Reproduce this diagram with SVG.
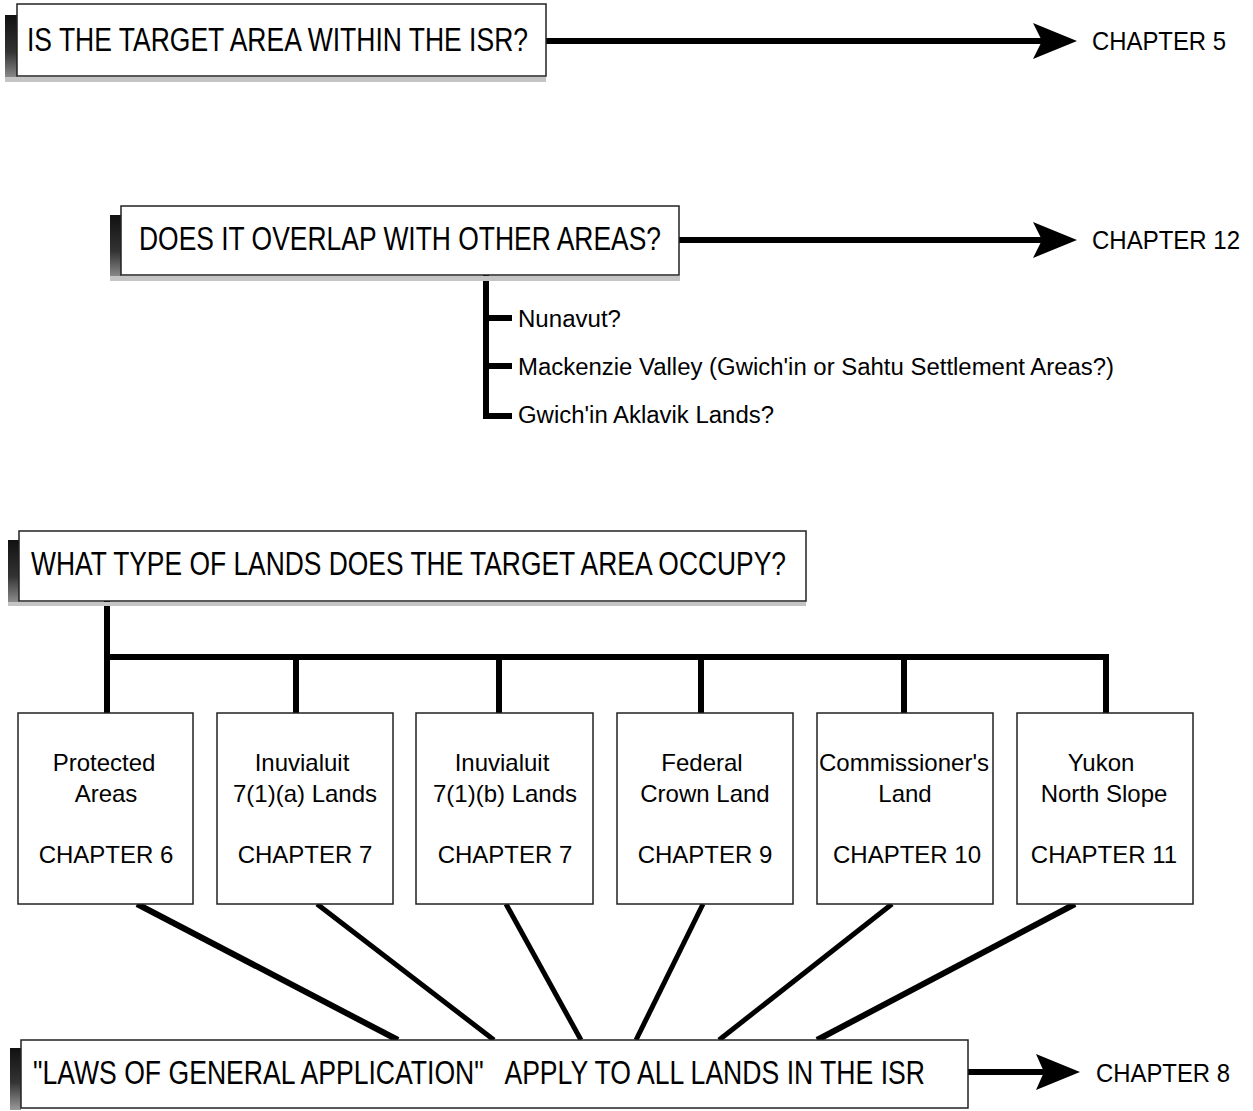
<svg xmlns="http://www.w3.org/2000/svg" width="1253" height="1111" viewBox="0 0 1253 1111">
<defs>
<linearGradient id="bar" x1="0" y1="0" x2="0" y2="1">
<stop offset="0" stop-color="#111"/><stop offset="0.55" stop-color="#333"/><stop offset="1" stop-color="#999"/>
</linearGradient>
<style>
.box{fill:#fff;stroke:#222;stroke-width:1.5}
.bar{fill:url(#bar)}
.band{fill:#c4c4c4}
.h{font-family:"Liberation Sans",Arial,sans-serif;font-size:33px;fill:#000}
.ch{font-family:"Liberation Sans",Arial,sans-serif;font-size:25px;fill:#000}
.t{font-family:"Liberation Sans",Arial,sans-serif;font-size:24px;fill:#000;text-anchor:middle}
.s{font-family:"Liberation Sans",Arial,sans-serif;font-size:23px;fill:#000}
.ln{stroke:#000;stroke-width:6;fill:none}
.ln5{stroke:#000;stroke-width:5;fill:none}
.head{fill:#000}
</style>
</defs>

<g id="connectors">
<line class="ln" x1="546" y1="41" x2="1042" y2="41"/>
<polygon class="head" points="1033,23 1077,41 1033,59 1042,41"/>
<line class="ln" x1="679" y1="240" x2="1042" y2="240"/>
<polygon class="head" points="1033,222 1077,240 1033,258 1042,240"/>
<line class="ln" x1="968" y1="1072" x2="1044" y2="1072"/>
<polygon class="head" points="1036,1054 1080,1072 1036,1090 1044,1072"/>
<polyline class="ln" points="486,275 486,416 512,416"/>
<line class="ln" x1="486" y1="318" x2="512" y2="318"/>
<line class="ln" x1="486" y1="366" x2="512" y2="366"/>
<line class="ln" x1="107" y1="601" x2="107" y2="713"/>
<line class="ln" x1="104" y1="657" x2="1109" y2="657"/>
<line class="ln" x1="296" y1="657" x2="296" y2="713"/>
<line class="ln" x1="499" y1="657" x2="499" y2="713"/>
<line class="ln" x1="701" y1="657" x2="701" y2="713"/>
<line class="ln" x1="904" y1="657" x2="904" y2="713"/>
<line class="ln" x1="1106" y1="657" x2="1106" y2="713"/>
<line class="ln" x1="137" y1="904" x2="398" y2="1040"/>
<line class="ln5" x1="317" y1="904" x2="494" y2="1040"/>
<line class="ln5" x1="506" y1="904" x2="581" y2="1040"/>
<line class="ln5" x1="703" y1="904" x2="636" y2="1040"/>
<line class="ln5" x1="892" y1="904" x2="719" y2="1040"/>
<line class="ln" x1="1075" y1="904" x2="817" y2="1040"/>
</g>

<g id="q1">
<rect class="bar" x="5" y="15" width="12" height="67"/>
<rect class="band" x="5" y="77" width="541" height="5"/>
<rect class="box" x="17" y="4" width="529" height="72"/>
<text class="h" x="27" y="51" textLength="501" lengthAdjust="spacingAndGlyphs">IS THE TARGET AREA WITHIN THE ISR?</text>
</g>
<g id="ch5"><text class="ch" x="1092" y="50" textLength="134" lengthAdjust="spacingAndGlyphs">CHAPTER 5</text></g>

<g id="q2">
<rect class="bar" x="110" y="215" width="11" height="66"/>
<rect class="band" x="110" y="276" width="570" height="5"/>
<rect class="box" x="121" y="206" width="558" height="69"/>
<text class="h" x="139" y="250" textLength="522" lengthAdjust="spacingAndGlyphs">DOES IT OVERLAP WITH OTHER AREAS?</text>
</g>
<g id="ch12"><text class="ch" x="1092" y="249" textLength="148" lengthAdjust="spacingAndGlyphs">CHAPTER 12</text></g>

<g id="o1"><text class="s" x="518" y="327" textLength="103" lengthAdjust="spacingAndGlyphs">Nunavut?</text></g>
<g id="o2"><text class="s" x="518" y="375" textLength="596" lengthAdjust="spacingAndGlyphs">Mackenzie Valley (Gwich'in or Sahtu Settlement Areas?)</text></g>
<g id="o3"><text class="s" x="518" y="423" textLength="256" lengthAdjust="spacingAndGlyphs">Gwich'in Aklavik Lands?</text></g>

<g id="q3">
<rect class="bar" x="8" y="540" width="11" height="66"/>
<rect class="band" x="8" y="602" width="798" height="4"/>
<rect class="box" x="19" y="531" width="787" height="70"/>
<text class="h" x="31" y="575" textLength="755" lengthAdjust="spacingAndGlyphs">WHAT TYPE OF LANDS DOES THE TARGET AREA OCCUPY?</text>
</g>

<g id="l1">
<rect class="box" x="18" y="713" width="175" height="191"/>
<text class="t" x="104" y="771">Protected</text><text class="t" x="106" y="802">Areas</text><text class="t" x="106" y="863">CHAPTER 6</text>
</g>
<g id="l2">
<rect class="box" x="217" y="713" width="176" height="191"/>
<text class="t" x="302" y="771">Inuvialuit</text><text class="t" x="305" y="802">7(1)(a) Lands</text><text class="t" x="305" y="863">CHAPTER 7</text>
</g>
<g id="l3">
<rect class="box" x="416" y="713" width="177" height="191"/>
<text class="t" x="502" y="771">Inuvialuit</text><text class="t" x="505" y="802">7(1)(b) Lands</text><text class="t" x="505" y="863">CHAPTER 7</text>
</g>
<g id="l4">
<rect class="box" x="617" y="713" width="176" height="191"/>
<text class="t" x="702" y="771">Federal</text><text class="t" x="705" y="802">Crown Land</text><text class="t" x="705" y="863">CHAPTER 9</text>
</g>
<g id="l5">
<rect class="box" x="817" y="713" width="176" height="191"/>
<text class="t" x="904" y="771">Commissioner's</text><text class="t" x="905" y="802">Land</text><text class="t" x="907" y="863">CHAPTER 10</text>
</g>
<g id="l6">
<rect class="box" x="1017" y="713" width="176" height="191"/>
<text class="t" x="1101" y="771">Yukon</text><text class="t" x="1104" y="802">North Slope</text><text class="t" x="1104" y="863">CHAPTER 11</text>
</g>

<g id="laws">
<rect class="bar" x="10" y="1048" width="11" height="62"/>
<rect class="box" x="21" y="1040" width="947" height="68"/>
<text class="h" transform="translate(33,1084) scale(1,1.25)" x="0" y="0" style="font-size:26px;white-space:pre" textLength="892" lengthAdjust="spacingAndGlyphs">"LAWS OF GENERAL APPLICATION"   APPLY TO ALL LANDS IN THE ISR</text>
</g>
<g id="ch8"><text class="ch" x="1096" y="1082" textLength="134" lengthAdjust="spacingAndGlyphs">CHAPTER 8</text></g>
</svg>
